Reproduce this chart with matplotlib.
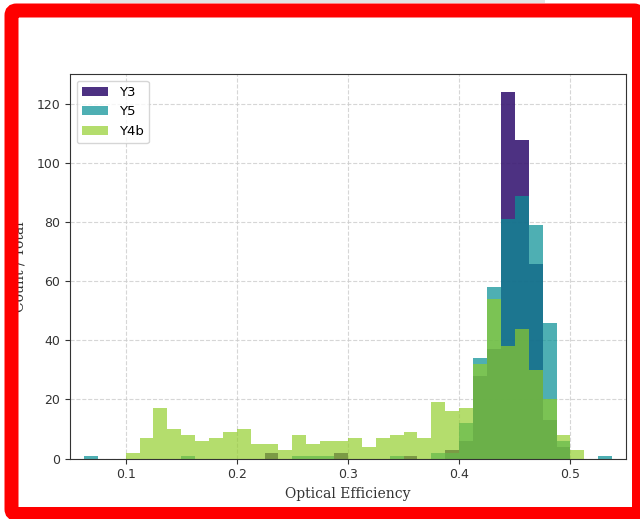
import numpy as np
import matplotlib
matplotlib.use("Agg")
import matplotlib.pyplot as plt
from matplotlib.patches import FancyBboxPatch, Rectangle
from matplotlib.transforms import IdentityTransform

# ---- data: histogram counts per bin (bin width 0.0125) ----
bin_edges = np.round(np.arange(0.0625, 0.5375 + 1e-9, 0.0125), 4)

y3_counts = [0, 0, 0, 0, 0, 0, 0, 0, 0, 0, 0, 0, 0, 2, 0, 0, 0, 0, 2, 0,
             0, 0, 0, 1, 0, 0, 3, 6, 28, 37, 124, 108, 66, 13, 4, 0, 0, 0]
y5_counts = [1, 0, 0, 0, 0, 0, 0, 1, 0, 0, 0, 0, 0, 0, 0, 1, 1, 1, 0, 0,
             0, 0, 1, 0, 0, 2, 2, 12, 34, 58, 81, 89, 79, 46, 6, 0, 0, 1]
y4b_counts = [0, 0, 0, 2, 7, 17, 10, 8, 6, 7, 9, 10, 5, 5, 3, 8, 5, 6, 6, 7,
              4, 7, 8, 9, 7, 19, 16, 17, 32, 54, 38, 44, 30, 20, 8, 3, 0, 0]

series_names = ["Y3", "Y5", "Y4b"]
x_ticks = [0.1, 0.2, 0.3, 0.4, 0.5]
y_ticks = [0, 20, 40, 60, 80, 100, 120]

colors = ["#3a1a74", "#0a9196", "#91cd28"]
alphas = [0.9, 0.72, 0.68]

fig = plt.figure(figsize=(6.4, 5.19), dpi=100)
ax = fig.add_axes([70 / 640, 1 - 458.5 / 519, (626 - 70) / 640, (458.5 - 74) / 519])

centers = (bin_edges[:-1] + bin_edges[1:]) / 2
for name, counts, c, a in zip(series_names, [y3_counts, y5_counts, y4b_counts], colors, alphas):
    ax.hist(centers, bins=bin_edges, weights=counts, histtype="stepfilled",
            color=c, alpha=a, label=name, linewidth=1.2)

ax.set_xlim(0.05, 0.55)
ax.set_ylim(0, 124 * 1.05)
ax.set_xticks(x_ticks)
ax.set_xticklabels([str(t) for t in x_ticks])
ax.set_yticks(y_ticks)
ax.tick_params(labelsize=9, colors="#333333")
ax.grid(True, linestyle="--", color="#cccccc", alpha=0.8, linewidth=0.8)
ax.set_axisbelow(True)
for s in ax.spines.values():
    s.set_color("#333333")

ax.set_xlabel("Optical Efficiency", family="DejaVu Serif", fontsize=10, color="#333333")
ax.set_ylabel("Count / Total", family="DejaVu Serif", fontsize=10, color="#333333")
ax.yaxis.set_label_coords((27 - 70) / 556, 0.5)

leg = ax.legend(loc="upper left", fontsize=9.5, frameon=True)
leg.get_frame().set_edgecolor("#cccccc")

# screenshot frame
fig.add_artist(Rectangle((90, 519 - 3), 455, 3, transform=IdentityTransform(),
                         facecolor="#e2e2e2", edgecolor="none", zorder=9))
fig.add_artist(FancyBboxPatch((11.5, 519 - 514), 639 - 11.5, 514 - 10.5,
                              boxstyle="round,pad=0,rounding_size=5",
                              transform=IdentityTransform(), fill=False,
                              edgecolor="#ff0000", linewidth=14 * 72 / 100, zorder=10))

fig.savefig("out.png", dpi=100)
